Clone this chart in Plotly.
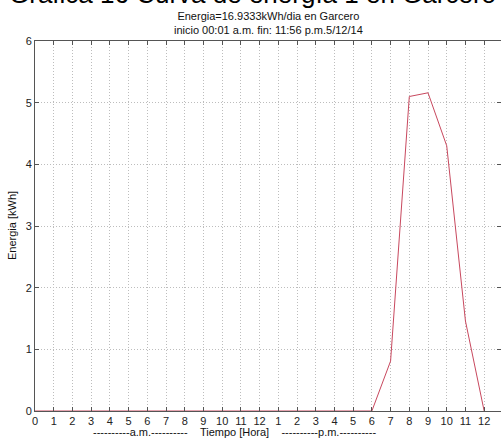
import plotly.graph_objects as go

hours = list(range(25))
energy = [0, 0, 0, 0, 0, 0, 0, 0, 0, 0, 0, 0, 0, 0, 0, 0, 0, 0,
          0, 0.81, 5.10, 5.16, 4.30, 1.46, 0]
tick_vals = list(range(25))
tick_text = ["0", "1", "2", "3", "4", "5", "6", "7", "8", "9", "10", "11", "12",
             "1", "2", "3", "4", "5", "6", "7", "8", "9", "10", "11", "12"]
y_ticks = [0, 1, 2, 3, 4, 5, 6]

FONT = "Arial, Liberation Sans, sans-serif"

fig = go.Figure()
fig.add_trace(go.Scatter(x=hours, y=energy, mode="lines",
                         line=dict(color="#c8485e", width=1)))

axis_common = dict(showline=True, linecolor="#555555", linewidth=1,
                   ticks="inside", ticklen=4, tickcolor="#555555",
                   showgrid=True, gridcolor="#bdbdbd", griddash="1px,2px", gridwidth=1,
                   zeroline=False, tickfont=dict(family=FONT, size=11, color="#222222"))

fig.update_xaxes(range=[0, 24.9], tickmode="array", tickvals=tick_vals, ticktext=tick_text,
                 mirror="ticks", **axis_common)
fig.update_yaxes(range=[0, 6], tickmode="array", tickvals=y_ticks,
                 mirror="ticks", **axis_common)

fig.update_layout(
    width=501, height=438,
    margin=dict(l=35, r=0, t=41, b=27),
    plot_bgcolor="white", paper_bgcolor="white",
    showlegend=False,
    annotations=[
        dict(text="Gráfica 16 Curva de energía 1 en Garcero", xref="paper", yref="paper",
             x=(252 - 35) / 466, y=(411 + 6) / 370, xanchor="center", yanchor="middle",
             showarrow=False, font=dict(family=FONT, size=26, color="#000000")),
        dict(text="Energia=16.9333kWh/dia en Garcero<br>inicio 00:01 a.m. fin: 11:56 p.m.5/12/14",
             xref="paper", yref="paper", x=0.5, y=(411 - 23) / 370,
             xanchor="center", yanchor="middle", showarrow=False,
             font=dict(family=FONT, size=11, color="#111111")),
        dict(text="Energia [kWh]", xref="paper", yref="paper",
             x=(12 - 35) / 466, y=0.5, textangle=-90, xanchor="center", yanchor="middle",
             showarrow=False, font=dict(family=FONT, size=11, color="#111111")),
        dict(text="----------a.m.----------&nbsp;&nbsp;&nbsp;&nbsp;Tiempo [Hora]&nbsp;&nbsp;&nbsp;&nbsp;----------p.m.----------",
             xref="paper", yref="paper", x=(234 - 35) / 466, y=(411 - 432) / 370,
             xanchor="center", yanchor="middle", showarrow=False,
             font=dict(family=FONT, size=11, color="#111111")),
    ],
)

fig.write_html("out.html")
